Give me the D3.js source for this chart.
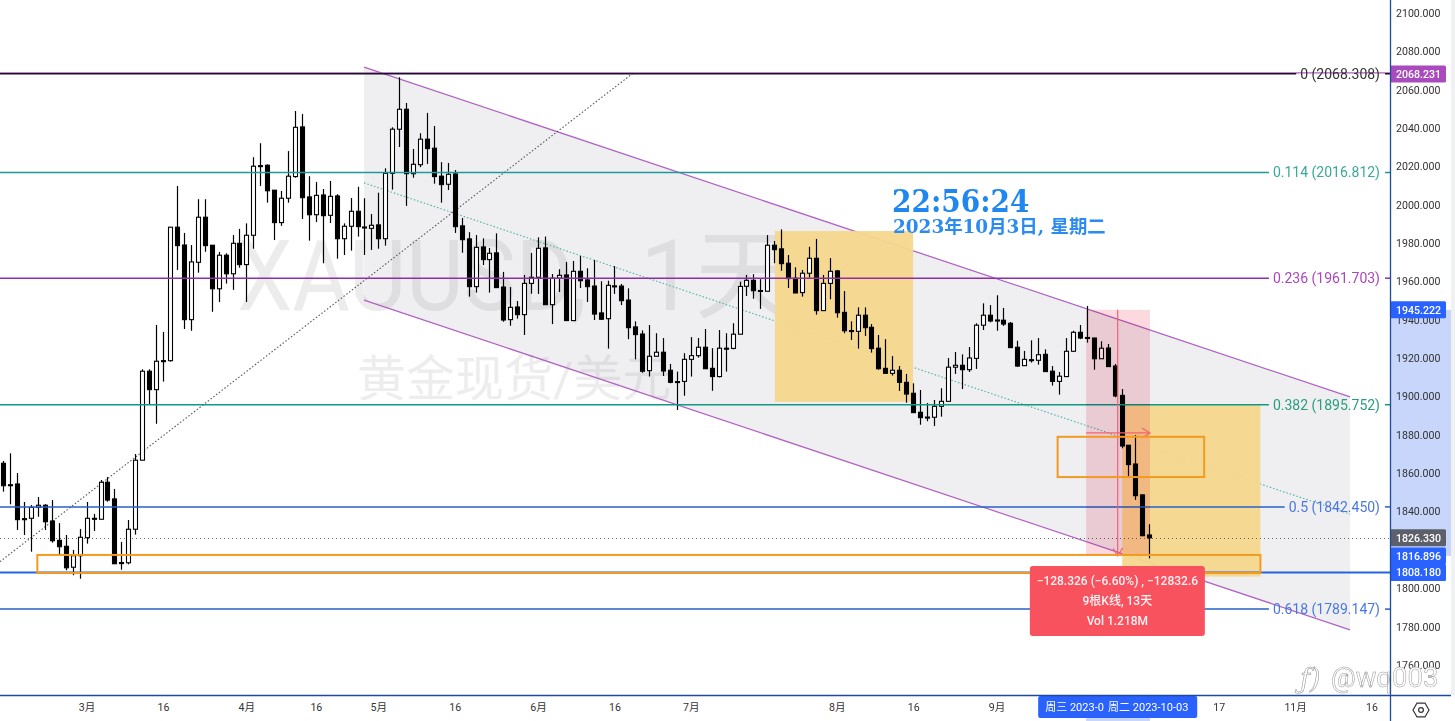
<!DOCTYPE html>
<html><head><meta charset="utf-8">
<script src="https://cdnjs.cloudflare.com/ajax/libs/d3/7.8.5/d3.min.js"></script>
<style>html,body{margin:0;padding:0;background:#fff;overflow:hidden}svg{display:block}
text{font-family:Roboto,"Noto Sans CJK SC",sans-serif}</style></head><body>
<svg id="c" width="1455" height="721"></svg>
<script>
const openP=[1865.2,1854.0,1854.4,1836.3,1836.5,1842.2,1843.3,1835.1,1825,1821.9,
1811,1817,1826.4,1836.5,1836,1855.3,1846.6,1813.4,1813.3,1830.8,
1866.8,1913.2,1903.6,1918.7,1918.7,1988.3,1979,1940.1,1970,1993.5,
1978.9,1956.2,1973.7,1964,1979.9,1968.8,1984.1,2020.4,2020.6,2007.6,
1990.7,2003.4,2014.7,2040.6,2004.1,1994.8,2005.1,1994.5,2004.6,1982.3,
1988.8,1996.6,1988.4,1987.7,1989.5,1982.3,2016.4,2039.4,2049.8,2016.2,
2020.9,2034.2,2029.5,2014.9,2010.7,2016.1,1989,1982.2,1957.3,1978,
1971.4,1974.9,1957.1,1940.1,1946.7,1942.7,1959,1962.2,1977.5,1947.9,
1961.7,1963.4,1939.6,1965.3,1960.8,1957.6,1943.6,1940.6,1957.7,1957.6,
1950.3,1936.3,1932.6,1913.5,1921,1923.1,1913.7,1907.8,1907.9,1919.4,
1921.3,1925.7,1914.7,1910.4,1925.2,1925.1,1932.5,1957.5,1960.6,1955.3,
1954.9,1978.9,1977,1969.5,1961.7,1954.2,1964.3,1972.1,1944.8,1959,
1965.5,1943.9,1934.4,1934,1942.4,1936.1,1925.2,1914.7,1912.1,1913.7,
1907.4,1901.7,1891.8,1889.3,1889.2,1894.9,1897.5,1915.3,1916.3,1914,
1919.9,1937.2,1942.4,1939.9,1939.8,1938.2,1925.7,1916.1,1919.2,1918.9,
1922,1913.2,1907.9,1910.4,1923.6,1933.5,1930.8,1930.5,1919.7,1925.3,
1915.9,1900.6,1874.6,1864.8,1848.7,1827.8];
const closeP=[1853.5,1853.6,1835.8,1835.9,1842.2,1843.3,1834.7,1824.8,1821.7,1810.7,
1817,1826.6,1836.5,1836.3,1855.3,1846,1812.8,1813.2,1830.8,1866.8,
1913.2,1903.6,1918.4,1918.5,1988.3,1978.7,1940.1,1970.2,1993.5,1978.7,
1956.2,1973.7,1964,1979.9,1968.8,1984.1,2020.1,2020.2,2007.3,1990.7,
2003.4,2014.9,2040.4,2003.7,1994.8,2004.9,1994.3,2004.4,1982.3,1988.8,
1996.6,1988.6,1988.2,1989.3,1982.3,2016.4,2039.4,2049.8,2016.2,2021.1,
2034.2,2029.3,2014.7,2010.5,2015.9,1988.6,1981.8,1957.3,1977.8,1971.4,
1974.7,1956.8,1939.9,1946.5,1942.7,1959,1962.2,1977.3,1947.9,1961.7,
1963.2,1939.6,1965.3,1960.4,1957.3,1943,1940.3,1958,1957.5,1950,
1935.9,1932.3,1913.2,1921,1923.1,1913.3,1907.4,1907.6,1919.4,1921.3,
1925.7,1914.5,1910.4,1925.2,1925,1932.5,1957.4,1960.6,1955.2,1955.1,
1978.9,1976.6,1969.3,1961.5,1954,1964.3,1972.1,1944.8,1959,1965.3,
1943.7,1934.3,1934.2,1942.4,1935.9,1925,1914.5,1912.1,1913.7,1907.4,
1901.3,1891.6,1889,1889.1,1894.9,1897.5,1915.3,1916.3,1914,1920.1,
1937.2,1942.4,1939.4,1939.7,1937.8,1925.5,1915.9,1919.4,1919,1921.8,
1913,1907.9,1910.6,1923.6,1933.5,1930.5,1930.6,1919.7,1925.2,1915.6,
1900.3,1874.2,1864.5,1848.3,1827.4,1826.3];
const highP=[1866.4,1870.4,1860.1,1845,1843.4,1847.6,1843.9,1846,1834,1827.8,
1820,1830.9,1845,1838.8,1856.5,1858,1851.8,1824.2,1835.6,1870,
1914.2,1914.2,1937.3,1933.7,1988.4,2009.8,1985.3,1979,2002.9,2002.9,
1979,1975.4,1974.7,1984.2,1987.4,1990.3,2024.8,2032.1,2021.1,2007.6,
2007.2,2028,2048.9,2047.3,2014.9,2011.9,2008.2,2012.4,2005.5,1990.3,
2003.5,2009.4,2003.4,1995.2,2006.3,2019,2040.4,2066.5,2053.1,2029.1,
2037.3,2047.9,2041.1,2022.2,2021.8,2018.1,1993.1,1985.7,1984.2,1982.5,
1977.5,1985.1,1965,1957.1,1949.8,1963.4,1974.9,1983,1983.4,1963.9,
1966.4,1970.2,1970.7,1973.3,1966.9,1971.2,1960.1,1960.4,1968,1958.7,
1956.4,1939.2,1934.5,1937.3,1933,1930.5,1917,1913,1922.6,1931,
1930.5,1935.2,1925.2,1934.7,1933,1938.2,1959.9,1963.4,1963.8,1961.2,
1984.2,1981.1,1987.2,1973.8,1967.4,1966,1978.1,1982.2,1963.4,1972.2,
1966,1955,1939.2,1946.5,1946.5,1937.8,1932.1,1929.9,1921.1,1915.9,
1911.8,1906.9,1903.4,1896.6,1898.2,1904.3,1920.1,1923.2,1922,1925.8,
1938.2,1948.6,1947.7,1952.8,1946.2,1938.9,1929.1,1923.8,1929.3,1930.5,
1924.6,1915.9,1912.8,1930.5,1934.3,1937.3,1947.2,1930.7,1928.8,1927.4,
1917,1903.9,1874.6,1879.9,1849,1833.4];
const lowP=[1850.4,1843.8,1830.4,1827.8,1819.1,1837.3,1830.4,1823.8,1817.4,1809.4,
1806.8,1805,1823.3,1829.9,1836,1845.2,1812.7,1809.7,1812.5,1828,
1866.8,1895.6,1885.8,1907.8,1918.2,1966,1935.2,1934.3,1964.6,1975.5,
1944.2,1949.3,1958.9,1955.6,1967.2,1949.3,1977.1,2009.8,2001.1,1981.6,
1989,2001.1,2014.1,1992.6,1981.3,1991,1969.5,1990.5,1971.9,1973.8,
1976.1,1983.4,1973.8,1976.4,1977.1,1978.7,2007.9,2030.1,1999.4,2014.1,
2019.6,2021.3,2011,2001.1,2007.7,1985.3,1975,1952.1,1954.2,1968.6,
1954.2,1956.8,1939,1936.9,1940.6,1932.1,1953.6,1953.5,1947.9,1937.8,
1954.5,1939.6,1939.6,1956.6,1949.3,1939.9,1939.9,1925,1953.5,1947.7,
1929.9,1919.4,1912.4,1910.4,1921,1910.7,1906.9,1893,1900.4,1910.4,
1920.3,1914.5,1903,1910,1913,1924.6,1932.5,1952.4,1951,1945.7,
1954.9,1969.5,1965.6,1956.6,1954,1952.1,1962,1942.7,1944.8,1950.7,
1941.1,1933,1929.5,1925,1931.6,1922.9,1914,1912.1,1910.9,1902.9,
1896.8,1891.6,1885.3,1887.1,1884.6,1889.5,1897.5,1911.8,1903.9,1912.8,
1914.4,1934.7,1938.7,1934.3,1936.8,1925.5,1915.4,1916.1,1917.7,1916.6,
1913,1905.7,1901,1910.4,1923.2,1929.9,1928.1,1914,1919.7,1915.6,
1899.6,1873,1857.7,1846.1,1827.4,1815.6];

const priceTicks=[1760,1780,1800,1840,1860,1880,1900,1920,1940,1960,1980,2000,2020,2040,2060,2080,2100];
const timeTickBars=[12,23,35,45,54,65,77,88,99,120,131,143,175,186,197];
const timeTickLabels=["3月","16","4月","16","5月","16","6月","16","7月","8月","16","9月","17","11月","16"];
const fibRatios=["0","0.114","0.236","0.382","0.5","0.618"];
const fibPrices=[2068.308,2016.812,1961.703,1895.752,1842.450,1789.147];
const fibLineColors=["#131722","#1f9a9a","#8e2fa8","#109a85","#2462c8","#2462c8"];
const fibTextColors=["#333","#3aa99a","#ab47bc","#2a9d7f","#4a78e0","#4a78e0"];
const channelBars=[51.94,193.9];
const channelTop=[2071.8,1899.8];
const channelMid=[2011.4,1838.7];
const channelBottom=[1950.3,1778.3];
const diagonalBars=[-0.48,90.7];
const diagonalPrices=[1813.9,2068.7];
const yellowBoxes=[[111.1,131,1986.3,1897.2],[161.1,181,1895.6,1806.1]];
const orangeBoxes=[[151.8,172.9,1879,1858],[4.9,181,1817.4,1808]];
const pinkBox=[155.9,165.1,1945.222,1816.896];
const arrowBar=160.45, arrowPrice=1881;
const lastClose=1826.330;
const purpleLabel=2068.231, blueTop=1945.222, blueMid=1816.896, blueLow=1808.180;
const tooltipLines=["−128.326 (−6.60%) , −12832.6","9根K线, 13天","Vol 1.218M"];
const tooltipBox=[147.8,173,1811.6,1775.1];
const crossBars=[149,158.2,171.9];
const crossTexts=["周三 2023-0","周二 2023-10-03"];
const wmPrice=1945, wmCnPrice=1900.3;

const W=1455,H=721,PX=1390,PY=695;
const x=d3.scaleLinear().domain([0,165]).range([3.3,1149.3]);
const y=d3.scaleLinear().domain([2100,1760]).range([13,665]);
const cy=p=>Math.round(y(p))+.5;
const svg=d3.select("#c");
const defs=svg.append("defs");
defs.append("clipPath").attr("id","plot").append("rect").attr("width",PX).attr("height",PY);
defs.append("marker").attr("id","ah").attr("viewBox","0 0 10 10").attr("refX",9).attr("refY",5)
 .attr("markerWidth",10).attr("markerHeight",10).attr("orient","auto").attr("markerUnits","userSpaceOnUse")
 .append("path").attr("d","M1,0L9,5L1,10").attr("fill","none").attr("stroke","#f2646f").attr("stroke-width",1.2);
const plot=svg.append("g").attr("clip-path","url(#plot)");

// watermarks
plot.append("text").attr("transform",`translate(237,${y(wmPrice)}) scale(0.9,1)`).attr("font-size",98)
 .attr("fill","#ececec").text("XAUUSD,");
plot.append("text").attr("x",640).attr("y",y(wmPrice)).attr("font-size",98).attr("fill","#ececec").text("1天");
plot.append("text").attr("x",357).attr("y",y(wmCnPrice)).attr("font-size",49).attr("fill","#ededed").text("黄金现货/美元");

// channel
const chanPts=[[channelBars[0],channelTop[0]],[channelBars[1],channelTop[1]],[channelBars[1],channelBottom[1]],[channelBars[0],channelBottom[0]]];
plot.append("path").attr("d",d3.line().x(d=>x(d[0])).y(d=>y(d[1]))(chanPts)+"Z").attr("fill","rgba(120,123,150,0.12)");
[channelTop,channelBottom].forEach(c=>plot.append("line").attr("x1",x(channelBars[0])).attr("x2",x(channelBars[1]))
 .attr("y1",y(c[0])).attr("y2",y(c[1])).attr("stroke","#b163c4").attr("stroke-width",1.3));
plot.append("line").attr("x1",x(channelBars[0])).attr("x2",x(channelBars[1])).attr("y1",y(channelMid[0])).attr("y2",y(channelMid[1]))
 .attr("stroke","#55b5a6").attr("stroke-width",1.2).attr("stroke-dasharray","1.5 2");
plot.append("line").attr("x1",x(diagonalBars[0])).attr("x2",x(diagonalBars[1])).attr("y1",y(diagonalPrices[0])).attr("y2",y(diagonalPrices[1]))
 .attr("stroke","#555").attr("stroke-width",1.1).attr("stroke-dasharray","1.5 2");

// yellow zones
plot.selectAll(".yb").data(yellowBoxes).join("rect").attr("class","yb")
 .attr("x",d=>x(d[0])).attr("width",d=>x(d[1])-x(d[0])).attr("y",d=>y(d[2])).attr("height",d=>y(d[3])-y(d[2]))
 .attr("fill","#f6d88e").attr("opacity",.95);

// current price dotted
plot.append("line").attr("x1",0).attr("x2",PX).attr("y1",cy(lastClose)).attr("y2",cy(lastClose))
 .attr("stroke","#666").attr("stroke-width",1).attr("stroke-dasharray","1 3");

// candles
const bars=openP.map((o,i)=>({i,o,c:closeP[i],h:highP[i],l:lowP[i]}));
const cg=plot.selectAll(".bar").data(bars).join("g").attr("class","bar")
 .attr("transform",d=>`translate(${Math.round(x(d.i))+0.5},0)`);
cg.append("line").attr("y1",d=>y(d.h)).attr("y2",d=>y(d.l)).attr("stroke","#000").attr("stroke-width",1.2);
cg.append("rect").attr("x",-2).attr("width",4)
 .attr("y",d=>y(Math.max(d.o,d.c))).attr("height",d=>Math.max(1,Math.abs(y(d.o)-y(d.c))))
 .attr("fill",d=>d.c>=d.o?"#fff":"#000").attr("stroke","#000").attr("stroke-width",1.1);

// purple price line for the top level, blue line for the lower horizontal
plot.append("line").attr("x1",0).attr("x2",PX).attr("y1",y(purpleLabel)-1).attr("y2",y(purpleLabel)-1).attr("stroke","#a94bbc").attr("stroke-width",1.2).attr("opacity",.9);
plot.append("line").attr("x1",0).attr("x2",PX).attr("y1",y(blueLow)).attr("y2",y(blueLow)).attr("stroke","#2962e0").attr("stroke-width",2);

// fib level lines and labels
const fibG=svg.append("g");
fibRatios.forEach((r,k)=>{
 const t=fibG.append("text").attr("x",1380).attr("y",y(fibPrices[k])).attr("dy","0.35em").attr("text-anchor","end")
  .attr("font-size",14).attr("fill",fibTextColors[k]).text(`${r} (${fibPrices[k].toFixed(3)})`);
 const w=t.node().getComputedTextLength();
 plot.append("line").attr("x1",0).attr("x2",1380-w-4).attr("y1",y(fibPrices[k])).attr("y2",y(fibPrices[k]))
  .attr("stroke",fibLineColors[k]).attr("stroke-width",1.5);
 svg.append("line").attr("x1",1385).attr("x2",PX).attr("y1",y(fibPrices[k])).attr("y2",y(fibPrices[k])).attr("stroke",fibLineColors[k]).attr("stroke-width",1.5);
});

// pink range and arrows
const pink=plot.append("g");
pink.append("rect").attr("x",x(pinkBox[0])).attr("width",x(pinkBox[1])-x(pinkBox[0])).attr("y",y(pinkBox[2])).attr("height",y(pinkBox[3])-y(pinkBox[2]))
 .attr("fill","#fbd9df").style("mix-blend-mode","multiply");
pink.append("line").attr("x1",x(arrowBar)).attr("x2",x(arrowBar)).attr("y1",y(pinkBox[2])).attr("y2",y(pinkBox[3]))
 .attr("stroke","#f2646f").attr("stroke-width",1.2).attr("marker-end","url(#ah)");
pink.append("line").attr("x1",x(pinkBox[0])).attr("x2",x(pinkBox[1])).attr("y1",y(arrowPrice)).attr("y2",y(arrowPrice))
 .attr("stroke","#f2646f").attr("stroke-width",1.2).attr("marker-end","url(#ah)");

// orange boxes
plot.selectAll(".ob").data(orangeBoxes).join("rect").attr("class","ob")
 .attr("x",d=>x(d[0])).attr("width",d=>x(d[1])-x(d[0])).attr("y",d=>y(d[2])).attr("height",d=>y(d[3])-y(d[2]))
 .attr("fill","none").attr("stroke","#f39a21").attr("stroke-width",2);

// tooltip
const tb=tooltipBox;
svg.append("rect").attr("x",x(tb[0])).attr("width",x(tb[1])-x(tb[0])).attr("y",y(tb[2])).attr("height",y(tb[3])-y(tb[2])).attr("rx",3).attr("fill","#f9525f");
tooltipLines.forEach((s,k)=>svg.append("text").attr("x",(x(tb[0])+x(tb[1]))/2).attr("y",y(tb[2])+15+k*20).attr("dy","0.35em")
 .attr("text-anchor","middle").attr("font-size",12).attr("font-weight",500).attr("fill","#fff").attr("fill-opacity",.92).text(s));

// clock
svg.append("text").attr("transform",`translate(892,${y(2000)+7}) scale(1,1.1)`).style("font-family","'DejaVu Serif'").style("font-weight","bold")
 .attr("font-size",28).attr("fill","#1f87ef").text("22:56:24");
svg.append("text").attr("x",893).attr("y",233).style("font-family","'DejaVu Serif','Noto Sans CJK SC'").style("font-weight","bold")
 .attr("font-size",18.4).attr("fill","#2a8cf0").text("2023年10月3日, 星期二");

// price axis
svg.append("rect").attr("x",1451).attr("y",0).attr("width",4).attr("height",PY).attr("fill","#f0f1f3");
svg.append("rect").attr("x",PX).attr("width",61).attr("y",y(blueTop)).attr("height",y(blueMid)-y(blueTop)).attr("fill","#c8d6fb");
const ya=svg.append("g").attr("transform",`translate(${PX},0)`)
 .call(d3.axisRight(y).tickValues(priceTicks).tickSize(0).tickPadding(6).tickFormat(d3.format(".3f")));
ya.select(".domain").remove();
ya.selectAll("text").attr("font-size",10.6).attr("fill","#333").style("font-family","Roboto");
const tags=[[purpleLabel,"#a94bbc"],[blueTop,"#2962ff"],[lastClose,"#5d606b"],[blueMid,"#2962ff"],[blueLow,"#2962ff"]];
tags.forEach(([p,c])=>{
 svg.append("rect").attr("x",PX).attr("width",56).attr("y",y(p)-8.5).attr("height",17).attr("rx",1.5).attr("fill",c);
 svg.append("text").attr("x",PX+6).attr("y",y(p)).attr("dy","0.35em").attr("font-size",10.6).attr("font-weight",500).attr("fill","#fff").text(p.toFixed(3));
});

// time axis
svg.append("rect").attr("x",x(pinkBox[0])).attr("width",x(pinkBox[1])-x(pinkBox[0])).attr("y",PY).attr("height",H-PY).attr("fill","#c8d6fb");
const xa=svg.append("g").attr("transform",`translate(0,${PY})`)
 .call(d3.axisBottom(x).tickValues(timeTickBars).tickSize(0).tickPadding(7.5).tickFormat((d,i)=>timeTickLabels[i]));
xa.select(".domain").remove();
xa.selectAll("text").attr("font-size",10.6).attr("fill","#333").attr("dy","0.8em").style("font-family","Roboto,'Noto Sans CJK SC'");
svg.append("rect").attr("x",x(crossBars[0])).attr("width",x(crossBars[2])-x(crossBars[0])).attr("y",PY+1).attr("height",22).attr("rx",2).attr("fill","#2962ff");
svg.append("text").attr("x",x(crossBars[0])+7).attr("y",PY+12).attr("dy","0.35em").attr("font-size",11).attr("fill","#fff").text(crossTexts[0]);
svg.append("text").attr("x",x(crossBars[1])+6).attr("y",PY+12).attr("dy","0.35em").attr("font-size",11).attr("fill","#fff").text(crossTexts[1]);

// frame
svg.append("line").attr("x1",0).attr("x2",1451).attr("y1",PY+.5).attr("y2",PY+.5).attr("stroke","#1c4a9e").attr("stroke-width",1.3);
svg.append("line").attr("x1",PX+.5).attr("x2",PX+.5).attr("y1",0).attr("y2",H).attr("stroke","#1c4a9e").attr("stroke-width",1.3);

// settings icon
const hex=d3.range(6).map(k=>[1421+8*Math.cos(k*Math.PI/3),710+8*Math.sin(k*Math.PI/3)]);
svg.append("path").attr("d",d3.line()(hex)+"Z").attr("fill","none").attr("stroke","#333").attr("stroke-width",1.2);
svg.append("circle").attr("cx",1421).attr("cy",710).attr("r",2.4).attr("fill","none").attr("stroke","#333").attr("stroke-width",1.2);

// image watermark
svg.append("text").attr("x",1300).attr("y",688).attr("font-size",27).style("font-style","italic").style("font-family","'DejaVu Serif'")
 .attr("fill","#fff").attr("stroke","#888").attr("stroke-width",.5).text("ƒ)");
svg.append("text").attr("x",1331).attr("y",687).attr("font-size",27.5).style("font-family","Roboto")
 .attr("fill","#fff").attr("stroke","#999").attr("stroke-width",.5).text("@wq003");
</script></body></html>
